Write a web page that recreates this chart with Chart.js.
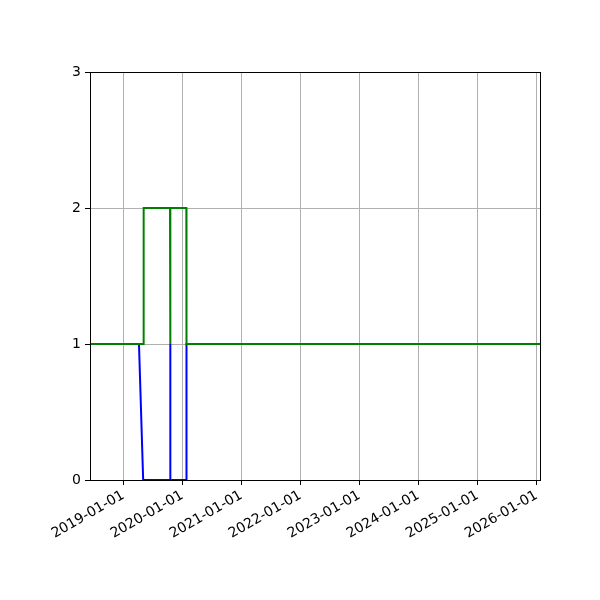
<!DOCTYPE html>
<html>
<head>
<meta charset="utf-8">
<script src="https://cdn.jsdelivr.net/npm/chart.js@4"></script>
<style>
  html, body { margin: 0; padding: 0; background: #fff; }
  #wrap { width: 600px; height: 600px; }
</style>
</head>
<body>
<div id="wrap"><canvas id="chart" width="600" height="600"></canvas></div>
<script>
// data
const blueDates  = ["2018-06-09", "2019-04-08", "2019-05-04", "2019-10-17", "2019-10-18", "2019-10-20", "2020-01-26", "2020-01-27", "2026-01-22"];
const blueValues = [1, 1, 0, 0, 1, 0, 0, 1, 1];

const greenDates  = ["2018-06-09", "2019-05-05", "2019-05-07", "2019-10-17", "2019-10-18", "2019-10-20", "2020-01-26", "2020-01-27", "2026-01-22"];
const greenValues = [1, 1, 2, 2, 1, 2, 2, 1, 1];

const xTickLabels = ["2019-01-01", "2020-01-01", "2021-01-01", "2022-01-01", "2023-01-01", "2024-01-01", "2025-01-01", "2026-01-01"];
const yTickValues = [0, 1, 2, 3];

const xMin = Date.parse("2018-06-09");
const xMax = Date.parse("2026-01-22");

function toPoints(dates, values) {
    return dates.map((d, i) => ({ x: Date.parse(d), y: values[i] }));
}

function fmtDate(ms) {
    const d = new Date(ms);
    const m = String(d.getUTCMonth() + 1).padStart(2, "0");
    const day = String(d.getUTCDate()).padStart(2, "0");
    return d.getUTCFullYear() + "-" + m + "-" + day;
}

// 네 변 테두리 (matplotlib spines)
const frame = {
    id: "frame",
    afterDatasetsDraw(chart) {
        const { ctx, chartArea: a } = chart;
        ctx.save();
        ctx.strokeStyle = "#000";
        ctx.lineWidth = 1;
        ctx.strokeRect(Math.round(a.left) + 0.5, Math.round(a.top) + 0.5,
                       Math.round(a.right - a.left), Math.round(a.bottom - a.top));
        ctx.restore();
    }
};

Chart.defaults.font.family = "'DejaVu Sans', sans-serif";
Chart.defaults.font.size = 14;
Chart.defaults.color = "#000";

new Chart(document.getElementById("chart").getContext("2d"), {
    type: "line",
    data: {
        datasets: [
            {
                data: toPoints(blueDates, blueValues),
                borderColor: "#0000ff",
                borderWidth: 2,
                pointRadius: 0,
                tension: 0,
                fill: false,
                order: 2   // 아래에 그림
            },
            {
                data: toPoints(greenDates, greenValues),
                borderColor: "#008000",
                borderWidth: 2,
                pointRadius: 0,
                tension: 0,
                fill: false,
                order: 1   // 위에 그림
            }
        ]
    },
    options: {
        responsive: false,
        animation: false,
        layout: { padding: { top: 72, right: 60, left: 0, bottom: 0 } },
        plugins: { legend: { display: false }, tooltip: { enabled: false } },
        scales: {
            x: {
                type: "linear",
                min: xMin,
                max: xMax,
                afterBuildTicks(scale) {
                    scale.ticks = xTickLabels.map(s => ({ value: Date.parse(s) }));
                },
                afterFit(scale) { scale.height = 120; },
                ticks: {
                    callback: v => fmtDate(v),
                    minRotation: 30,
                    maxRotation: 30,
                    autoSkip: false,
                    padding: 2
                },
                grid: { color: "#b0b0b0", tickColor: "#000", tickLength: 5, lineWidth: 1 },
                border: { color: "#000" }
            },
            y: {
                min: 0,
                max: 3,
                afterBuildTicks(scale) {
                    scale.ticks = yTickValues.map(v => ({ value: v }));
                },
                afterFit(scale) { scale.width = 90; },
                ticks: { padding: 4 },
                grid: { color: "#b0b0b0", tickColor: "#000", tickLength: 5, lineWidth: 1 },
                border: { color: "#000" }
            }
        }
    },
    plugins: [frame]
});
</script>
</body>
</html>
